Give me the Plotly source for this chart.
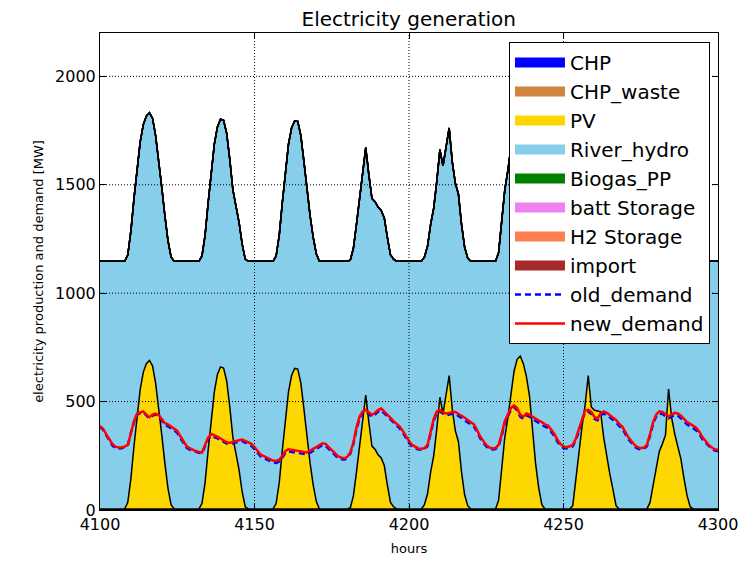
import plotly.graph_objects as go

# ---------------- data ----------------
hours = list(range(4100, 4301))

chp = [
    0, 0, 0, 0, 0, 0, 0, 0, 0, 0, 0, 0, 0, 0, 0, 0, 0, 0, 0, 0,
    0, 0, 0, 0, 0, 0, 0, 0, 0, 0, 0, 0, 0, 0, 0, 0, 0, 0, 0, 0,
    0, 0, 0, 0, 0, 0, 0, 0, 0, 0, 0, 0, 0, 0, 0, 0, 0, 0, 0, 0,
    0, 0, 0, 0, 0, 0, 0, 0, 0, 0, 0, 0, 0, 0, 0, 0, 0, 0, 0, 0,
    0, 0, 0, 0, 0, 0, 0, 0, 0, 0, 0, 0, 0, 0, 0, 0, 0, 0, 0, 0,
    0, 0, 0, 0, 0, 0, 0, 0, 0, 0, 0, 0, 0, 0, 0, 0, 0, 0, 0, 0,
    0, 0, 0, 0, 0, 0, 0, 0, 0, 0, 0, 0, 0, 0, 0, 0, 0, 0, 0, 0,
    0, 0, 0, 0, 0, 0, 0, 0, 0, 0, 0, 0, 0, 0, 0, 0, 0, 0, 0, 0,
    0, 0, 0, 0, 0, 0, 0, 0, 0, 0, 0, 0, 0, 0, 0, 0, 0, 0, 0, 0,
    0, 0, 0, 0, 0, 0, 0, 0, 0, 0, 0, 0, 0, 0, 0, 0, 0, 0, 0, 0,
    0,
]

chp_waste = [
    5, 5, 5, 5, 5, 5, 5, 5, 5, 5, 5, 5, 5, 5, 5, 5, 5, 5, 5, 5,
    5, 5, 5, 5, 5, 5, 5, 5, 5, 5, 5, 5, 5, 5, 5, 5, 5, 5, 5, 5,
    5, 5, 5, 5, 5, 5, 5, 5, 5, 5, 5, 5, 5, 5, 5, 5, 5, 5, 5, 5,
    5, 5, 5, 5, 5, 5, 5, 5, 5, 5, 5, 5, 5, 5, 5, 5, 5, 5, 5, 5,
    5, 5, 5, 5, 5, 5, 5, 5, 5, 5, 5, 5, 5, 5, 5, 5, 5, 5, 5, 5,
    5, 5, 5, 5, 5, 5, 5, 5, 5, 5, 5, 5, 5, 5, 5, 5, 5, 5, 5, 5,
    5, 5, 5, 5, 5, 5, 5, 5, 5, 5, 5, 5, 5, 5, 5, 5, 5, 5, 5, 5,
    5, 5, 5, 5, 5, 5, 5, 5, 5, 5, 5, 5, 5, 5, 5, 5, 5, 5, 5, 5,
    5, 5, 5, 5, 5, 5, 5, 5, 5, 5, 5, 5, 5, 5, 5, 5, 5, 5, 5, 5,
    5, 5, 5, 5, 5, 5, 5, 5, 5, 5, 5, 5, 5, 5, 5, 5, 5, 5, 5, 5,
    5,
]

pv = [
    0, 0, 0, 0, 0, 0, 0, 0,                                                  # 4100-4107
    0, 30, 140, 290, 430, 550, 630, 670, 685, 660, 580, 470, 340, 210, 95, 20, 0,   # 4108-4124
    0, 0, 0, 0, 0, 0, 0,                                                     # 4125-4131
    0, 25, 120, 270, 420, 540, 620, 655, 650, 590, 470, 330, 255, 180, 80, 10, 0,   # 4132-4148
    0, 0, 0, 0, 0, 0, 0,                                                     # 4149-4155
    0, 25, 120, 270, 420, 540, 615, 648, 645, 580, 460, 330, 210, 110, 35, 0,       # 4156-4171
    0, 0, 0, 0, 0, 0, 0, 0,                                                  # 4172-4179
    0, 5, 60, 170, 290, 420, 525, 400, 290, 275, 250, 235, 200, 110, 30, 10, 0,     # 4180-4196
    0, 0, 0, 0, 0, 0, 0,                                                     # 4197-4203
    0, 20, 70, 170, 245, 370, 515, 440, 530, 615, 460, 360, 310, 170, 65, 15, 0,    # 4204-4220
    0, 0, 0, 0, 0, 0, 0,                                                     # 4221-4227
    0, 40, 190, 330, 420, 540, 635, 690, 705, 670, 610, 520, 370, 205, 95, 20, 0,   # 4228-4244
    0, 0, 0, 0, 0, 0, 0,                                                     # 4245-4251
    0, 15, 140, 250, 380, 480, 615, 470, 455, 452, 448, 330, 240, 160, 90, 15, 0,   # 4252-4268
    0, 0, 0, 0, 0, 0, 0, 0,                                                  # 4269-4276
    0, 30, 110, 190, 265, 300, 340, 553, 420, 345, 290, 230, 140, 60, 10, 0,        # 4277-4292
    0, 0, 0, 0, 0, 0, 0, 0,                                                  # 4293-4300
]

river_hydro = [
    1142, 1142, 1142, 1142, 1142, 1142, 1142, 1142, 1142, 1142, 1142, 1142, 1142, 1142, 1142, 1142, 1142, 1142, 1142, 1142,
    1142, 1142, 1142, 1142, 1142, 1142, 1142, 1142, 1142, 1142, 1142, 1142, 1142, 1142, 1142, 1142, 1142, 1142, 1142, 1142,
    1142, 1142, 1142, 1142, 1142, 1142, 1142, 1142, 1142, 1142, 1142, 1142, 1142, 1142, 1142, 1142, 1142, 1142, 1142, 1142,
    1142, 1142, 1142, 1142, 1142, 1142, 1142, 1142, 1142, 1142, 1142, 1142, 1142, 1142, 1142, 1142, 1142, 1142, 1142, 1142,
    1142, 1142, 1142, 1142, 1142, 1142, 1142, 1142, 1142, 1142, 1142, 1142, 1142, 1142, 1142, 1142, 1142, 1142, 1142, 1142,
    1142, 1142, 1142, 1142, 1142, 1142, 1142, 1142, 1142, 1142, 1142, 1142, 1142, 1142, 1142, 1142, 1142, 1142, 1142, 1142,
    1142, 1142, 1142, 1142, 1142, 1142, 1142, 1142, 1142, 1142, 1142, 1142, 1142, 1142, 1142, 1142, 1142, 1142, 1142, 1142,
    1142, 1142, 1142, 1142, 1142, 1142, 1142, 1142, 1142, 1142, 1142, 1142, 1142, 1142, 1142, 1142, 1142, 1142, 1142, 1142,
    1142, 1142, 1142, 1142, 1142, 1142, 1142, 1142, 1142, 1142, 1142, 1142, 1142, 1142, 1142, 1142, 1142, 1142, 1142, 1142,
    1142, 1142, 1142, 1142, 1142, 1142, 1142, 1142, 1142, 1142, 1142, 1142, 1142, 1142, 1142, 1142, 1142, 1142, 1142, 1142,
    1142,
]

biogas_pp = chp
batt_storage = chp
h2_storage = chp
imports = chp

new_demand = [
    388, 375, 350, 325, 305, 292, 288, 289, 292, 300,   # 4100
    360, 410, 445, 450, 455, 440, 428, 440, 445, 438,   # 4110
    418, 400, 395, 385, 372, 365, 340, 318, 295, 285,   # 4120
    278, 272, 268, 265, 300, 335, 350, 345, 338, 330,   # 4130
    322, 312, 310, 315, 320, 322, 325, 318, 312, 305,   # 4140
    290, 275, 255, 248, 242, 235, 228, 226, 232, 250,   # 4150
    272, 280, 278, 276, 275, 270, 268, 265, 272, 282,   # 4160
    290, 300, 308, 305, 290, 275, 260, 248, 242, 238,   # 4170
    245, 265, 310, 380, 430, 455, 462, 450, 438, 448,   # 4180
    462, 468, 455, 440, 425, 410, 398, 385, 365, 340,   # 4190
    318, 300, 290, 284, 283, 285, 300, 360, 420, 455,   # 4200
    462, 452, 445, 448, 452, 452, 445, 435, 425, 415,   # 4210
    405, 395, 370, 340, 320, 300, 288, 284, 286, 300,   # 4220
    350, 410, 440, 470, 482, 470, 440, 430, 445, 440,   # 4230
    430, 420, 412, 405, 395, 390, 370, 352, 325, 305,   # 4240
    293, 290, 294, 300, 330, 370, 420, 460, 462, 452,   # 4250
    430, 422, 445, 455, 448, 438, 428, 415, 398, 385,   # 4260
    360, 335, 318, 300, 290, 285, 288, 300, 350, 405,   # 4270
    440, 455, 452, 440, 432, 440, 448, 445, 435, 420,   # 4280
    405, 398, 388, 378, 360, 335, 318, 300, 288, 280,   # 4290
    276,                                                # 4300
]

old_demand = [
    385, 370, 345, 318, 298, 286, 283, 285, 290, 298,   # 4100
    355, 405, 440, 447, 450, 435, 422, 435, 440, 430,   # 4110
    410, 392, 386, 376, 364, 356, 332, 310, 288, 279,   # 4120
    273, 268, 264, 261, 293, 326, 342, 337, 330, 322,   # 4130
    315, 306, 304, 309, 314, 316, 318, 310, 304, 296,   # 4140
    281, 266, 247, 240, 234, 226, 219, 217, 224, 242,   # 4150
    263, 270, 268, 266, 265, 261, 259, 257, 264, 274,   # 4160
    282, 292, 300, 296, 281, 267, 252, 240, 235, 232,   # 4170
    240, 260, 304, 372, 422, 448, 455, 442, 430, 440,   # 4180
    454, 460, 446, 430, 415, 400, 389, 376, 356, 331,   # 4190
    310, 293, 284, 279, 279, 281, 295, 353, 412, 448,   # 4200
    455, 444, 437, 440, 444, 443, 435, 425, 414, 404,   # 4210
    395, 385, 361, 332, 312, 293, 282, 279, 281, 294,   # 4220
    343, 402, 432, 462, 474, 460, 430, 420, 436, 430,   # 4230
    420, 410, 401, 394, 384, 379, 360, 342, 316, 297,   # 4240
    286, 284, 288, 294, 323, 362, 412, 452, 454, 443,   # 4250
    421, 413, 436, 445, 438, 427, 417, 404, 388, 375,   # 4260
    351, 326, 310, 292, 283, 279, 282, 294, 343, 397,   # 4270
    432, 446, 443, 431, 423, 431, 439, 435, 424, 409,   # 4280
    394, 387, 377, 367, 350, 325, 309, 292, 281, 274,   # 4290
    271,                                                # 4300
]

x_ticks = [4100, 4150, 4200, 4250, 4300]
y_ticks = [0, 500, 1000, 1500, 2000]
x_range = [4100, 4300]
y_range = [0, 2200]

# ---------------- figure ----------------
FONT = "DejaVu Sans"
stack = [
    ("CHP", chp, "#0000FF"),
    ("CHP_waste", chp_waste, "#CD853F"),
    ("PV", pv, "#FFD700"),
    ("River_hydro", river_hydro, "#87CEEB"),
    ("Biogas_PP", biogas_pp, "#008000"),
    ("batt Storage", batt_storage, "#EE82EE"),
    ("H2 Storage", h2_storage, "#FF7F50"),
    ("import", imports, "#A52A2A"),
]

fig = go.Figure()
for name, vals, col in stack:
    fig.add_trace(go.Scatter(
        x=hours, y=vals, name=name, mode="lines", stackgroup="gen",
        line=dict(color="black", width=1.5), fillcolor=col,
        legendgroup=name, showlegend=False, hoverinfo="skip",
    ))

# legend entries for the stacked areas (patch-like swatches)
for name, vals, col in stack:
    fig.add_trace(go.Scatter(
        x=[None], y=[None], name=name, mode="lines",
        line=dict(color=col, width=14),
        legendgroup=name, showlegend=True,
    ))

fig.add_trace(go.Scatter(
    x=hours, y=old_demand, name="old_demand", mode="lines",
    line=dict(color="#0000FF", width=2.5, dash="6px,4px"), legendgroup="old",
))
fig.add_trace(go.Scatter(
    x=hours, y=new_demand, name="new_demand", mode="lines",
    line=dict(color="#FF0000", width=2.5), legendgroup="new",
))

# grid lines drawn on top of the areas (as in the reference)
shapes = []
for xv in x_ticks[1:-1]:
    shapes.append(dict(type="line", xref="x", yref="paper", x0=xv, x1=xv, y0=0, y1=1,
                       line=dict(color="black", width=1, dash="1px,2px"), layer="above"))
for yv in y_ticks[1:]:
    shapes.append(dict(type="line", xref="paper", yref="y", x0=0, x1=1, y0=yv, y1=yv,
                       line=dict(color="black", width=1, dash="1px,2px"), layer="above"))

fig.update_layout(
    width=750, height=569,
    margin=dict(l=100, r=32, t=33, b=59),
    paper_bgcolor="white", plot_bgcolor="white",
    font=dict(family=FONT, color="black"),
    title=dict(text="Electricity generation", x=0.545, xanchor="center",
               y=0.966, yanchor="middle", font=dict(size=20, family=FONT)),
    showlegend=True,
    legend=dict(x=0.987, xanchor="right", y=0.981, yanchor="top",
                bgcolor="white", bordercolor="black", borderwidth=1,
                font=dict(size=20, family=FONT), traceorder="grouped",
                tracegroupgap=0, itemwidth=50),
    shapes=shapes,
    xaxis=dict(range=x_range, tickvals=x_ticks, ticks="inside", ticklen=6,
               tickcolor="black", showline=True, linecolor="black", linewidth=1,
               mirror="ticks", showgrid=False, zeroline=False,
               tickfont=dict(size=16, family=FONT),
               title=dict(text="hours", font=dict(size=13, family=FONT), standoff=10)),
    yaxis=dict(range=y_range, tickvals=y_ticks, ticks="inside", ticklen=6,
               tickcolor="black", showline=True, linecolor="black", linewidth=1,
               mirror="ticks", showgrid=False, zeroline=False,
               tickfont=dict(size=16, family=FONT),
               title=dict(text="electricity production and demand [MW]",
                          font=dict(size=13, family=FONT), standoff=8)),
)

fig.write_html("out.html", config={"displayModeBar": False},
               post_script="document.body.style.margin='0';")
